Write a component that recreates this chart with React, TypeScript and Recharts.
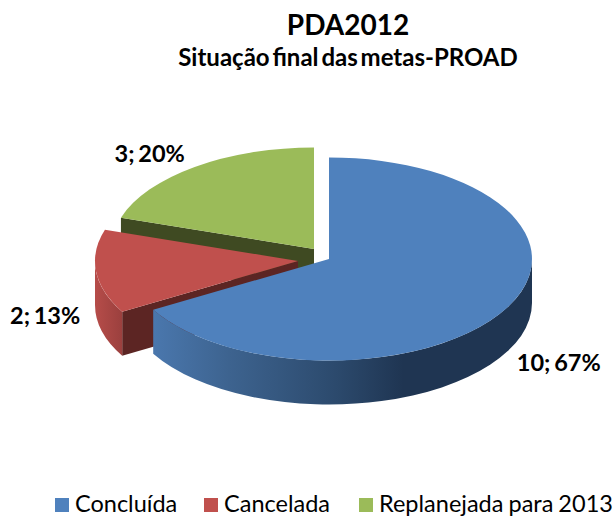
import React from 'react';
import { PieChart, Pie, Legend } from 'recharts';

const categories = ['Concluída', 'Cancelada', 'Replanejada para 2013'];
const values = [10, 2, 3];
const percents = [67, 13, 20];
const colors = ['#4f81bd', '#c0504d', '#9bbb59'];

// painter's order: back slices first, so the table runs backwards
const rows = categories
  .map((name, i) => ({ name, value: values[i], fill: colors[i] }))
  .reverse();

const FONT = 'Lato, sans-serif';
const RX = 203;
const RY_RATIO = 0.5;
const DEPTH = 44;
const RAD = Math.PI / 180;

// exploded slices, offset from the pie centre
const sliceOffset = [
  [15, 4],
  [-16, 6],
  [0, -6]
];
const labelNudge = [
  [69, 56],
  [-67, 49],
  [-45, -20]
];
const legendLeft = [55, 204, 359];
const sideColors = ['#1f3552', '#5c2523', '#3f4a22'];

const polar = (cx: number, cy: number, r: number, deg: number): [number, number] => [
  cx + r * Math.cos(deg * RAD),
  cy - r * RY_RATIO * Math.sin(deg * RAD)
];

const Slice3D = (props: any) => {
  const { name, fill, startAngle, endAngle, outerRadius } = props;
  const i = categories.indexOf(name);
  const cx = props.cx + sliceOffset[i][0];
  const cy = props.cy + sliceOffset[i][1];
  const r = outerRadius;
  const ry = r * RY_RATIO;
  const a0 = Math.min(startAngle, endAngle);
  const a1 = Math.max(startAngle, endAngle);
  const mid = (a0 + a1) / 2;
  const [x0, y0] = polar(cx, cy, r, a0);
  const [x1, y1] = polar(cx, cy, r, a1);
  const large = a1 - a0 > 180 ? 1 : 0;
  const top = `M${cx},${cy} L${x0},${y0} A${r},${ry} 0 ${large} 0 ${x1},${y1} Z`;

  // cut faces that turn towards the viewer
  const cuts = [a0, a1].filter((deg) => {
    const ex = Math.cos(deg * RAD);
    const ey = Math.sin(deg * RAD);
    let nx = -ey;
    let ny = ex;
    if (nx * Math.cos(mid * RAD) + ny * Math.sin(mid * RAD) > 0) {
      nx = -nx;
      ny = -ny;
    }
    return ny < -0.001;
  });

  // outer rim: only the front half of the ellipse shows
  const w0 = Math.max(a0, 180);
  const w1 = Math.min(a1, 360);
  let rim = '';
  if (w1 > w0) {
    const [rx0, ry0] = polar(cx, cy, r, w0);
    const [rx1, ry1] = polar(cx, cy, r, w1);
    rim = `M${rx0},${ry0} A${r},${ry} 0 0 0 ${rx1},${ry1} L${rx1},${ry1 + DEPTH} A${r},${ry} 0 0 1 ${rx0},${ry0 + DEPTH} Z`;
  }

  const gradId = `rim-${i}`;
  return (
    <g>
      <defs>
        {i === 0 && (
          <linearGradient id={gradId} gradientUnits="userSpaceOnUse" x1={154} x2={532} y1={0} y2={0}>
            <stop offset="0" stopColor="#4a77ad" />
            <stop offset="0.2" stopColor="#3d638f" />
            <stop offset="0.48" stopColor="#2c4a6d" />
            <stop offset="0.66" stopColor="#1f3552" />
            <stop offset="1" stopColor="#1f3552" />
          </linearGradient>
        )}
        {i === 1 && (
          <linearGradient id={gradId} gradientUnits="userSpaceOnUse" x1={96} x2={122} y1={0} y2={0}>
            <stop offset="0" stopColor="#b54c49" />
            <stop offset="1" stopColor="#9b403e" />
          </linearGradient>
        )}
      </defs>
      {cuts.map((deg) => {
        const [ex, ey] = polar(cx, cy, r, deg);
        return (
          <path
            key={deg}
            d={`M${cx},${cy} L${ex},${ey} L${ex},${ey + DEPTH} L${cx},${cy + DEPTH} Z`}
            fill={sideColors[i]}
          />
        );
      })}
      {rim && <path d={rim} fill={`url(#${gradId})`} />}
      <path d={top} fill={fill} />
    </g>
  );
};

const renderLabel = (props: any) => {
  const { name, cx, cy, midAngle, outerRadius } = props;
  const i = categories.indexOf(name);
  const [x, y] = polar(cx, cy, outerRadius, midAngle);
  return (
    <text
      x={x + labelNudge[i][0]}
      y={y + labelNudge[i][1]}
      textAnchor="middle"
      dominantBaseline="central"
      fill="#000"
      style={{ fontFamily: FONT, fontSize: 23.5, fontWeight: 700, wordSpacing: -2 }}
    >
      {`${values[i]}; ${percents[i]}%`}
    </text>
  );
};

const renderLegend = (props: any) => (
  <div style={{ position: 'relative', width: 616, height: 26, fontFamily: FONT, fontSize: 23.5, lineHeight: '26px', wordSpacing: -1, color: '#000' }}>
    {categories.map((name, i) => {
      const entry = props.payload.find((p: any) => p.value === name);
      return (
        <div key={name} style={{ position: 'absolute', left: legendLeft[i], top: 0, whiteSpace: 'nowrap' }}>
          <span
            style={{
              display: 'inline-block',
              width: 14,
              height: 14,
              marginRight: 6,
              background: entry ? entry.color : colors[i]
            }}
          />
          {name}
        </div>
      );
    })}
  </div>
);

export default function App() {
  return (
    <div style={{ position: 'absolute', left: 0, top: 0, width: 616, height: 516, overflow: 'hidden', background: '#fff' }}>
      <div style={{ position: 'absolute', left: 0, right: 0, top: 6, textAlign: 'center', paddingLeft: 80, boxSizing: 'border-box', fontFamily: FONT, fontWeight: 700, fontSize: 28, lineHeight: '36px' }}>
        PDA2012
      </div>
      <div style={{ position: 'absolute', left: 0, right: 0, top: 43, textAlign: 'center', paddingLeft: 80, boxSizing: 'border-box', fontFamily: FONT, fontWeight: 700, fontSize: 24, wordSpacing: -3, lineHeight: '28px' }}>
        Situação final das metas-PROAD
      </div>
      <PieChart width={616} height={516} margin={{ top: 0, right: 0, bottom: 0, left: 0 }}>
        <Pie
          data={rows}
          dataKey="value"
          nameKey="name"
          cx={314}
          cy={255}
          outerRadius={RX}
          startAngle={90}
          endAngle={450}
          stroke="none"
          isAnimationActive={false}
          labelLine={false}
          label={renderLabel}
          shape={Slice3D}
        />
        <Legend content={renderLegend} wrapperStyle={{ left: 0, top: 490, width: 616 }} />
      </PieChart>
    </div>
  );
}
